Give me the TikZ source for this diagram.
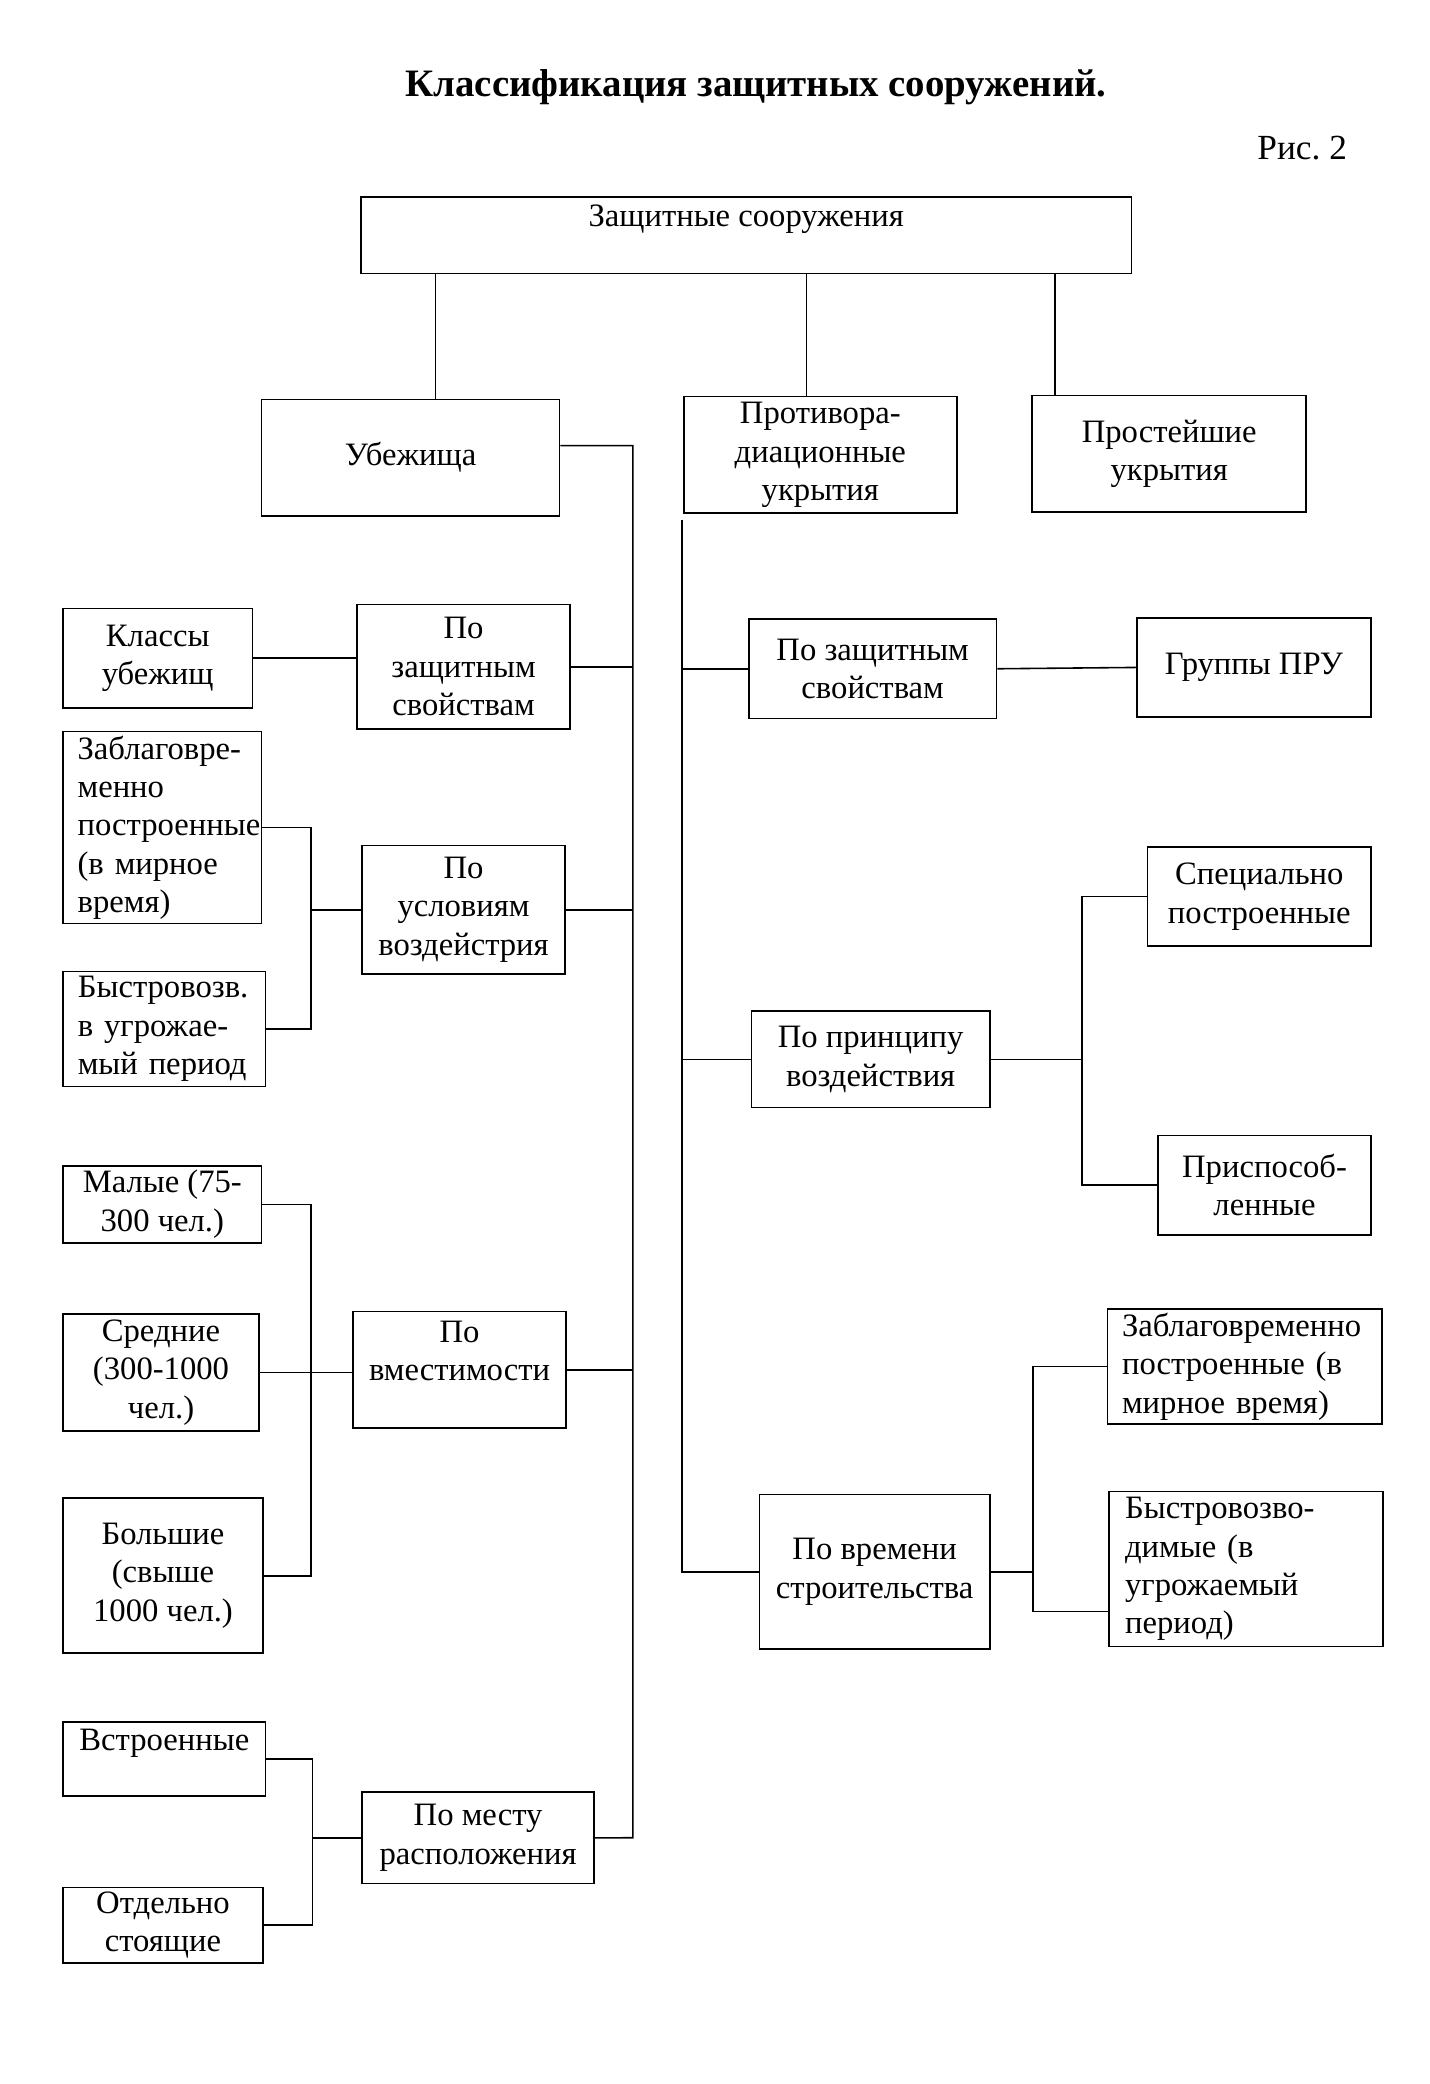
\documentclass[tikz,border=0pt]{standalone}
\usepackage{fontspec}
\setmainfont{Liberation Serif}
\usetikzlibrary{calc}
\frenchspacing

\tikzset{
  box/.style={draw, line width=0.9pt, inner sep=0pt, align=center, anchor=north west,
    font=\fontsize{18.5}{21.75}\selectfont},
  sz/.style 2 args={minimum width=#1*0.75pt, minimum height=#2*0.75pt},
  link/.style={line width=0.9pt}
}

\begin{document}
\begin{tikzpicture}[x=0.75pt,y=-0.75pt]
\useasboundingbox (0,0) rectangle (1080,1574);

% Title
\node[font=\bfseries\fontsize{22}{26}\selectfont] (title) at (571,66) {Классификация защитных сооружений.};
\node[anchor=east, font=\fontsize{20}{24}\selectfont] (fig) at (1022,112) {Рис. 2};

% Top level
\node[box, sz={582}{58}] (top) at (272,148) {Защитные сооружения\\~};
\node[box, sz={225}{88}] (ubezh) at (197,301) {Убежища};
\node[box, sz={206}{88}] (pru) at (516,299) {Противора-\\диационные\\укрытия};
\node[box, sz={207}{88}] (prost) at (779,298) {Простейшие\\укрытия};

% Left branch
\node[box, sz={143}{75}] (klass) at (47,459) {Классы\\убежищ};
\node[box, sz={161}{94}] (zashL) at (269,456) {По\\защитным\\свойствам};
\node[box, sz={150}{145}, align=left, text width=96pt] (zablL) at (47,552) {Заблаговре-\\менно\\построенные\\(в мирное\\время)};
\node[box, sz={153}{87}, align=left, text width=98pt] (bystrL) at (47,733) {Быстровозв.\\в угрожае-\\мый период};
\node[box, sz={153}{97}] (uslov) at (273,638) {По\\условиям\\воздейстрия};
\node[box, sz={150}{58}] (malye) at (47,880) {Малые (75-\\300 чел.)};
\node[box, sz={148}{88}] (sred) at (47,992) {Средние\\(300-1000\\чел.)};
\node[box, sz={151}{117}] (bolsh) at (47,1131) {Большие\\(свыше\\1000 чел.)};
\node[box, sz={161}{88}] (vmest) at (266,990) {По\\вместимости\\~};
\node[box, sz={153}{56}] (vstr) at (47,1300) {Встроенные\\~};
\node[box, sz={151}{57}] (otdel) at (47,1425) {Отдельно\\стоящие};
\node[box, sz={175}{69}] (mesto) at (273,1353) {По месту\\расположения};

% Right branch
\node[box, sz={187}{75}] (zashR) at (565,467) {По защитным\\свойствам};
\node[box, sz={177}{75}] (grup) at (858,466) {Группы ПРУ};
\node[box, sz={180}{73}] (princ) at (567,763) {По принципу\\воздействия};
\node[box, sz={169}{75}] (spec) at (866,639) {Специально\\построенные};
\node[box, sz={161}{75}] (prisp) at (874,857) {Приспособ-\\ленные};
\node[box, sz={174}{117}] (vrem) at (573,1128) {По времени\\строительства};
\node[box, sz={207}{87}, align=left, text width=139pt] (zablR) at (836,988) {Заблаговременно\\построенные (в\\мирное время)};
\node[box, sz={207}{117}, align=left, text width=137pt] (bystrR) at (837,1126) {Быстровозво-\\димые (в\\угрожаемый\\период)};

% Spines and brackets
\coordinate (spL) at (478,1388);
\coordinate (spR) at (515,393);
\coordinate (brA) at (235,0);
\coordinate (brB) at (235,0);
\coordinate (brC) at (236,0);
\coordinate (brD) at (817,0);
\coordinate (brE) at (780,0);
\coordinate (tU) at (329,0);
\coordinate (tP) at (609,0);
\coordinate (tS) at (797,0);

% Draw connectors
\draw[link] (top.south -| tU) -- (ubezh.north -| tU);
\draw[link] (top.south -| tP) -- (pru.north -| tP);
\draw[link] (top.south -| tS) -- (prost.north -| tS);

\draw[link] ([yshift=6.75pt]ubezh.east) -| (spL) -- (mesto.east);
\draw[link] (zashL.east) -- (zashL.east -| spL);
\draw[link] (uslov.east) -- (uslov.east -| spL);
\draw[link] (vmest.east) -- (vmest.east -| spL);
\draw[link] (klass.east) -- (klass.east -| zashL.west);

\draw[link] (zablL.east) -- (zablL.east -| brA) -- (bystrL.east -| brA) -- (bystrL.east);
\draw[link] (uslov.west -| brA) -- (uslov.west);
\draw[link] (malye.east) -- (malye.east -| brB) -- (bolsh.east -| brB) -- (bolsh.east);
\draw[link] (sred.east) -- (sred.east -| vmest.west);
\draw[link] (vstr.east) -- (vstr.east -| brC) -- (otdel.east -| brC) -- (otdel.east);
\draw[link] (mesto.west -| brC) -- (mesto.west);

\draw[link] (spR) |- (vrem.west);
\draw[link] (zashR.west -| spR) -- (zashR.west);
\draw[link] (princ.west -| spR) -- (princ.west);
\draw[link] (zashR.east) -- (grup.west);
\draw[link] (princ.east) -- (princ.east -| brD);
\draw[link] (spec.west) -- (spec.west -| brD) -- (prisp.west -| brD) -- (prisp.west);
\draw[link] (vrem.east) -- (vrem.east -| brE);
\draw[link] (zablR.west) -- (zablR.west -| brE) -- ([yshift=-24pt]bystrR.west -| brE) -- ([yshift=-24pt]bystrR.west);

\end{tikzpicture}
\end{document}
